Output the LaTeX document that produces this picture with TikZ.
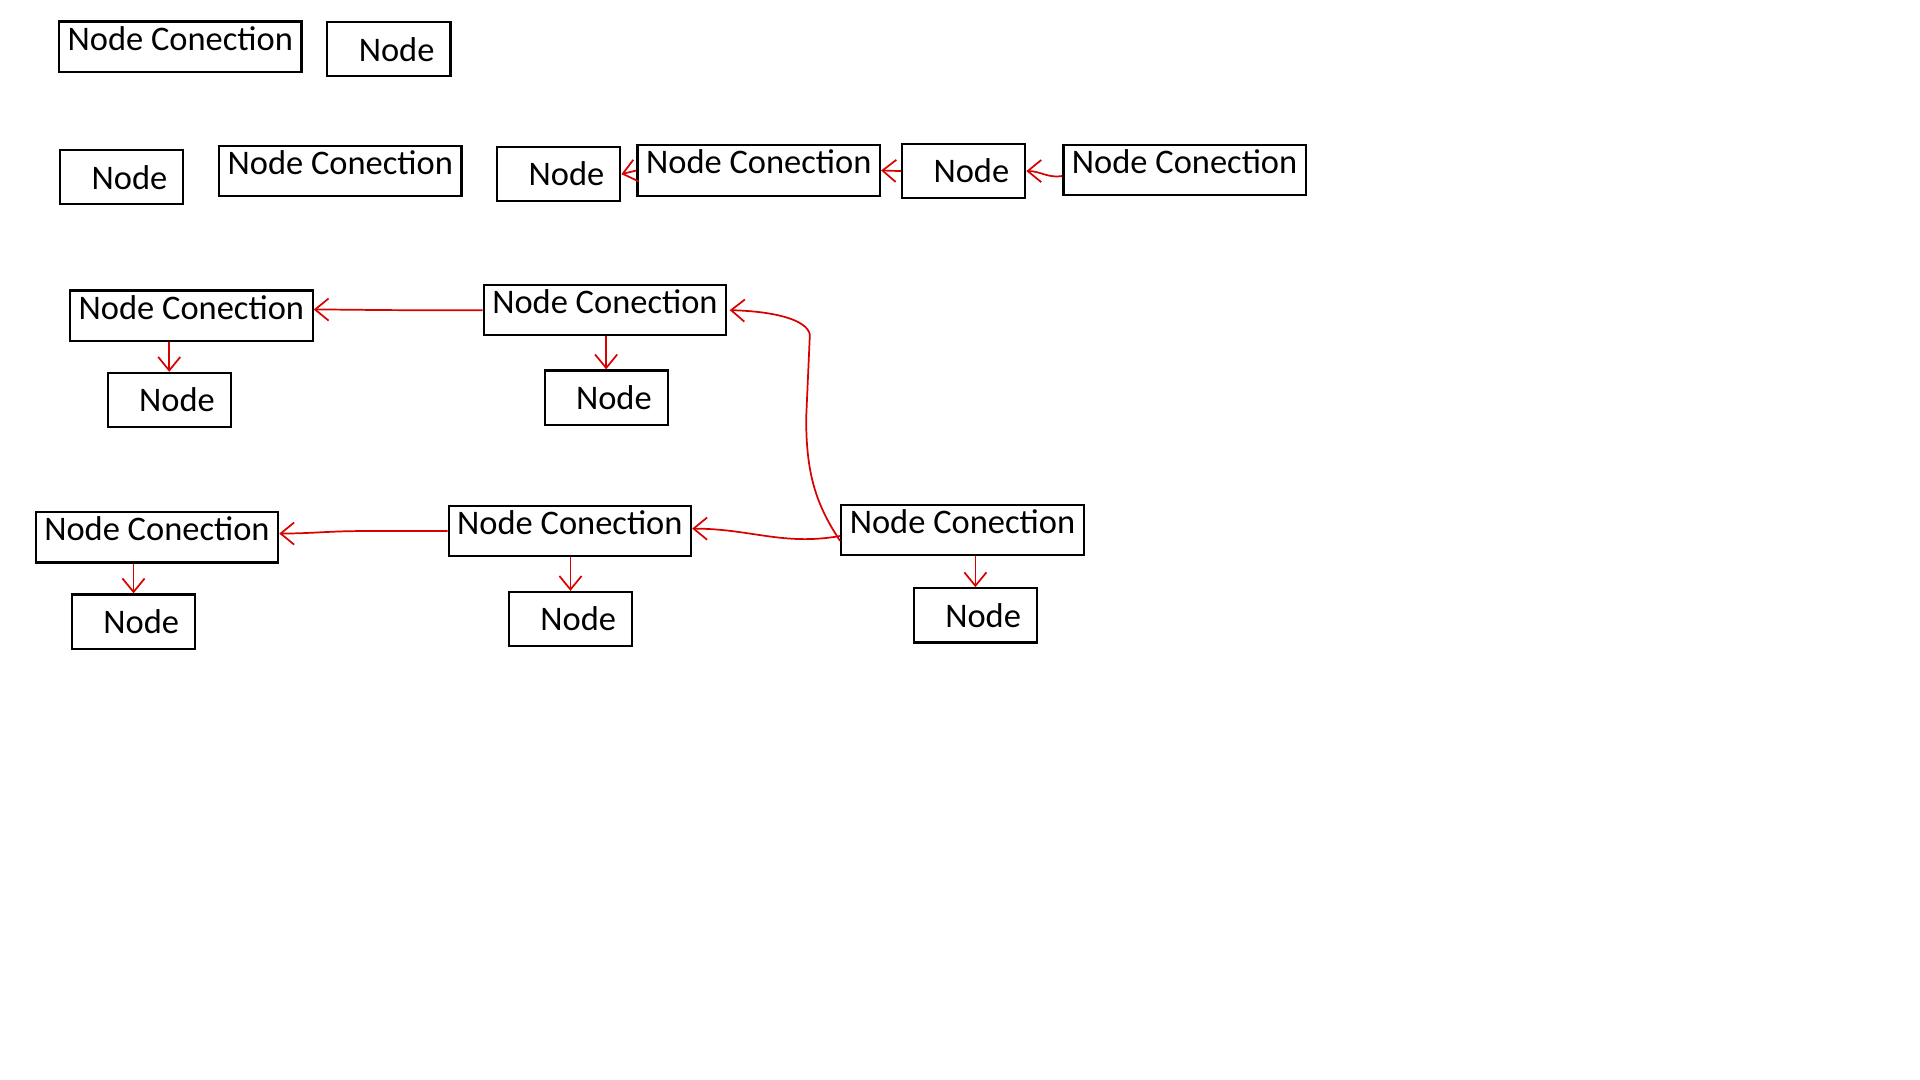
\documentclass[tikz,border=0pt]{standalone}
\usepackage{fontspec}
\setmainfont{Carlito}
\usetikzlibrary{arrows.meta}
\begin{document}
\begin{tikzpicture}[x=1pt,y=-1pt,
  conbox/.style={draw,line width=1.8pt,minimum width=197pt,minimum height=41pt,inner xsep=4pt,inner ysep=0pt,text depth=14pt,font=\fontsize{28}{30}\selectfont},
  nodebox/.style={draw,line width=1.8pt,minimum width=100pt,minimum height=44pt,inner sep=0pt,text width=74pt,align=right,font=\fontsize{28}{30}\selectfont},
  link/.style={draw=red!85!black,line width=1.4pt,-{Straight Barb[length=11pt,width=18pt]}}]
\useasboundingbox(0,0)rectangle(1560,877.5);
%row 1
\node[conbox](a1)at(146.5,38){Node Conection};
\node[nodebox](a2)at(316,40){Node};
%row 2
\node[nodebox](b1)at(99,144){Node};
\node[conbox](b2)at(276.5,139){Node Conection};
\node[nodebox](b3)at(454,141.5){Node};
\node[conbox](b4)at(616.5,138.5){Node Conection};
\node[nodebox](b5)at(783,139){Node};
\node[conbox](b6)at(962.5,138){Node Conection};
\draw[link](b4.west)--(b3.east);
\draw[link](b5.west)--(b4.east);
\draw[link]([yshift=-5]b6.west)to[out=190,in=0](b5.east);
%row 3
\node[conbox](c1)at(155.5,256.5){Node Conection};
\node[nodebox](c2)at(137.5,325){Node};
\node[conbox](c3)at(491.5,252){Node Conection};
\node[nodebox](c4)at(492.5,323){Node};
\draw[link](c3.west)--++(-60,0)to[out=180,in=0]([yshift=5]c1.east);
\draw[link](c1.south-|c2.north)--(c2.north);
\draw[link](c3.south-|c4.north)--(c4.north);
%row 4
\node[conbox](d1)at(127.5,436.5){Node Conection};
\node[nodebox](d2)at(108.5,505){Node};
\node[conbox](d3)at(463,431.5){Node Conection};
\node[nodebox](d4)at(463.5,503){Node};
\node[conbox](d5)at(782,430.5){Node Conection};
\node[nodebox](d6)at(792.5,500){Node};
\draw[link](d3.west)--++(-70,0)to[out=180,in=0]([yshift=3]d1.east);
\draw[link](d1.south-|d2.north)--(d2.north);
\draw[link](d3.south-|d4.north)--(d4.north);
\draw[link]([yshift=-5]d5.west)to[out=190,in=0]([yshift=2]d3.east);
\draw[link](d5.south-|d6.north)--(d6.north);
%loop back up
\draw[link]([yshift=-9]d5.west)..controls(663,410)and(655,385)..(655,340)--(658,272)..controls(656,260)and(630,253)..([xshift=2]c3.east);
\end{tikzpicture}
\end{document}
